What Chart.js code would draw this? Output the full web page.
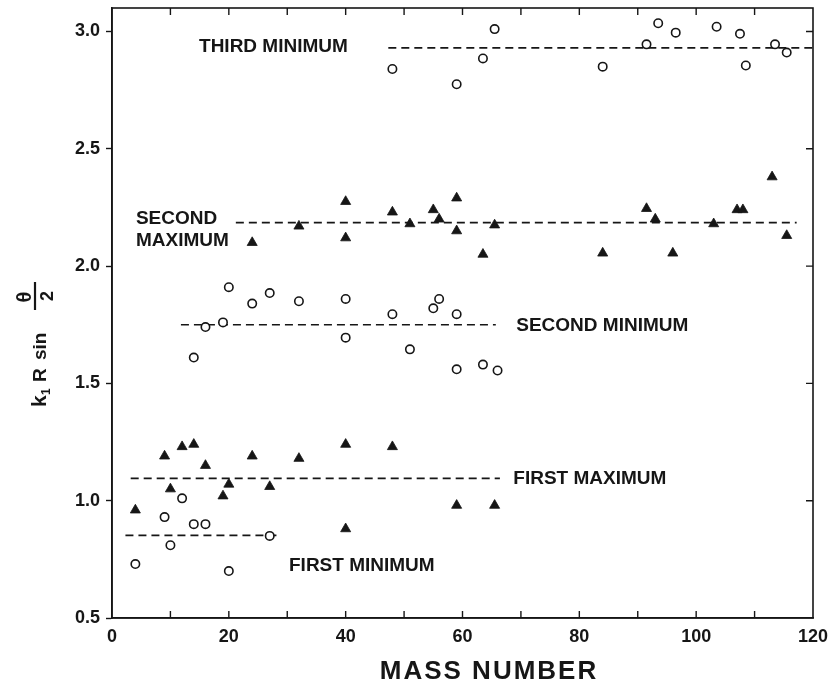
<!DOCTYPE html>
<html>
<head>
<meta charset="utf-8">
<script src="https://cdn.jsdelivr.net/npm/chart.js@4/dist/chart.umd.min.js"></script>
<style>
html, body { margin: 0; padding: 0; background: #ffffff; }
#wrap { width: 837px; height: 685px; }
</style>
</head>
<body>
<div id="wrap"><canvas id="c" width="837" height="685"></canvas></div>
<script>
// ---------- data ----------
const firstMinX  = [4, 9, 10, 12, 14, 16, 20, 27];
const firstMinY  = [0.73, 0.93, 0.81, 1.01, 0.90, 0.90, 0.70, 0.85];

const firstMaxX  = [4, 9, 10, 12, 14, 16, 19, 20, 24, 27, 32, 40, 40, 48, 59, 65.5];
const firstMaxY  = [0.96, 1.19, 1.05, 1.23, 1.24, 1.15, 1.02, 1.07, 1.19, 1.06, 1.18, 1.24, 0.88, 1.23, 0.98, 0.98];

const secondMinX = [14, 16, 19, 20, 24, 27, 32, 40, 40, 48, 51, 55, 56, 59, 59, 63.5, 66];
const secondMinY = [1.61, 1.74, 1.76, 1.91, 1.84, 1.885, 1.85, 1.86, 1.695, 1.795, 1.645, 1.82, 1.86, 1.795, 1.56, 1.58, 1.555];

const secondMaxX = [24, 32, 40, 40, 48, 51, 55, 56, 59, 59, 63.5, 65.5, 84, 91.5, 93, 96, 103, 107, 108, 113, 115.5];
const secondMaxY = [2.10, 2.17, 2.275, 2.12, 2.23, 2.18, 2.24, 2.20, 2.29, 2.15, 2.05, 2.175, 2.055, 2.245, 2.20, 2.055, 2.18, 2.24, 2.24, 2.38, 2.13];

const thirdMinX  = [48, 59, 63.5, 65.5, 84, 91.5, 93.5, 96.5, 103.5, 107.5, 108.5, 113.5, 115.5];
const thirdMinY  = [2.84, 2.775, 2.885, 3.01, 2.85, 2.945, 3.035, 2.995, 3.02, 2.99, 2.855, 2.945, 2.91];

// mean levels (dashed lines): level, start and end mass number
const meanNames  = ['FIRST MINIMUM', 'FIRST MAXIMUM', 'SECOND MINIMUM', 'SECOND MAXIMUM', 'THIRD MINIMUM'];
const meanLevel  = [0.852, 1.095, 1.75, 2.185, 2.93];
const meanStart  = [2.3, 3.2, 11.8, 21.2, 47.3];
const meanEnd    = [28.8, 66.4, 65.7, 117.2, 120];

const xTickValues = [0, 10, 20, 30, 40, 50, 60, 70, 80, 90, 100, 110, 120];
const xTickLabels = ['0', '', '20', '', '40', '', '60', '', '80', '', '100', '', '120'];
const yTickValues = [0.5, 1.0, 1.5, 2.0, 2.5, 3.0];
const yTickLabels = ['0.5', '1.0', '1.5', '2.0', '2.5', '3.0'];
const xAxisTitle = 'MASS NUMBER';

// ---------- build ----------
const INK = '#161616';
const FONT = '"Liberation Sans", Arial, sans-serif';
const pts = (xs, ys) => xs.map((x, i) => ({ x: x, y: ys[i] }));

const openCircle = { pointStyle: 'circle', pointRadius: 4.2, pointBorderWidth: 1.6,
  pointBackgroundColor: '#ffffff', pointBorderColor: INK, showLine: false, order: 0 };
const filledTri = { pointStyle: 'triangle', pointRadius: 5.8, pointBorderWidth: 0.8,
  pointBackgroundColor: INK, pointBorderColor: INK, showLine: false, order: 0 };

const datasets = [
  Object.assign({ label: 'First minimum', data: pts(firstMinX, firstMinY) }, openCircle),
  Object.assign({ label: 'First maximum', data: pts(firstMaxX, firstMaxY) }, filledTri),
  Object.assign({ label: 'Second minimum', data: pts(secondMinX, secondMinY) }, openCircle),
  Object.assign({ label: 'Second maximum', data: pts(secondMaxX, secondMaxY) }, filledTri),
  Object.assign({ label: 'Third minimum', data: pts(thirdMinX, thirdMinY) }, openCircle),
];
meanNames.forEach((n, i) => {
  datasets.push({
    type: 'line', label: n + ' (mean)',
    data: [{ x: meanStart[i], y: meanLevel[i] }, { x: meanEnd[i], y: meanLevel[i] }],
    borderColor: INK, borderWidth: 1.6, borderDash: [8, 5], pointRadius: 0,
    showLine: true, fill: false, order: 1
  });
});

// text labels attached to the dashed lines (in data units)
const labelAnchors = [
  { text: 'FIRST MINIMUM',  x: 30.3, y: 0.722 },
  { text: 'FIRST MAXIMUM',  x: 68.7, y: 1.092 },
  { text: 'SECOND MINIMUM', x: 69.2, y: 1.747 },
  { text: 'SECOND',         x: 4.1,  y: 2.203 },
  { text: 'MAXIMUM',        x: 4.1,  y: 2.110 },
  { text: 'THIRD MINIMUM',  x: 14.9, y: 2.935 },
];

const framePlugin = {
  id: 'frame',
  afterDraw(chart) {
    const { ctx, chartArea: a, scales: { x, y } } = chart;
    ctx.save();
    ctx.strokeStyle = INK;
    ctx.lineWidth = 1.6;
    ctx.strokeRect(a.left, a.top, a.right - a.left, a.bottom - a.top);
    // inward ticks: bottom & top every 10, right at 0.5 steps
    ctx.lineWidth = 1.4;
    ctx.beginPath();
    xTickValues.forEach(v => {
      const px = x.getPixelForValue(v);
      if (v > 0 && v < 120) {
        ctx.moveTo(px, a.bottom); ctx.lineTo(px, a.bottom - 7);
        ctx.moveTo(px, a.top);    ctx.lineTo(px, a.top + 7);
      }
    });
    yTickValues.forEach(v => {
      const py = y.getPixelForValue(v);
      if (v > 0.5) { ctx.moveTo(a.right, py); ctx.lineTo(a.right - 7, py); }
    });
    ctx.stroke();

    // curve labels
    ctx.fillStyle = INK;
    ctx.font = 'bold 19px ' + FONT;
    ctx.textAlign = 'left';
    ctx.textBaseline = 'middle';
    labelAnchors.forEach(l => {
      ctx.fillText(l.text, x.getPixelForValue(l.x), y.getPixelForValue(l.y));
    });

    // x-axis title (sits right of centre in the reference)
    ctx.font = 'bold 26px ' + FONT;
    ctx.textAlign = 'center';
    ctx.textBaseline = 'middle';
    if ('letterSpacing' in ctx) ctx.letterSpacing = '2px';
    ctx.fillText(xAxisTitle, 489, 672);
    if ('letterSpacing' in ctx) ctx.letterSpacing = '0px';

    // y-axis title: k1 R sin (theta / 2), rotated
    ctx.translate(46, 407);
    ctx.rotate(-Math.PI / 2);
    ctx.textBaseline = 'alphabetic';
    ctx.textAlign = 'left';
    ctx.font = 'bold 21px ' + FONT;
    ctx.fillText('k', 0, 0);
    ctx.font = 'bold 12px ' + FONT;
    ctx.fillText('1', 12, 4);
    ctx.font = 'bold 19px ' + FONT;
    ctx.fillText('R', 25, 0);
    ctx.fillText('sin', 47, 0);
    ctx.textAlign = 'center';
    ctx.font = 'bold 20px ' + FONT;
    ctx.fillText('θ', 110, -15);
    ctx.font = 'bold 18px ' + FONT;
    ctx.fillText('2', 111, 7);
    ctx.lineWidth = 2.2;
    ctx.beginPath();
    ctx.moveTo(97, -11); ctx.lineTo(125, -11);
    ctx.stroke();
    ctx.restore();
  }
};

new Chart(document.getElementById('c'), {
  type: 'scatter',
  data: { datasets: datasets },
  options: {
    responsive: false,
    animation: false,
    layout: { padding: { top: 8, right: 24, left: 0, bottom: 0 } },
    plugins: { legend: { display: false }, tooltip: { enabled: false }, title: { display: false } },
    scales: {
      x: {
        type: 'linear', min: 0, max: 120,
        afterBuildTicks: s => { s.ticks = xTickValues.map(v => ({ value: v })); },
        afterFit: s => { s.height = 67; s.paddingLeft = 0; s.paddingRight = 0; },
        ticks: {
          autoSkip: false, maxRotation: 0, padding: 8, color: INK,
          font: { family: FONT, size: 18, weight: 'bold' },
          callback: (v) => xTickLabels[xTickValues.indexOf(v)]
        },
        grid: { drawOnChartArea: false, drawTicks: false },
        border: { display: true, color: INK, width: 1.6 },
        title: { display: false, text: xAxisTitle }
      },
      y: {
        type: 'linear', min: 0.5, max: 3.1,
        afterBuildTicks: s => { s.ticks = yTickValues.map(v => ({ value: v })); },
        afterFit: s => { s.width = 112; s.paddingTop = 0; s.paddingBottom = 0; },
        ticks: {
          padding: 6, color: INK,
          font: { family: FONT, size: 18, weight: 'bold' },
          callback: (v) => yTickLabels[yTickValues.indexOf(v)]
        },
        grid: { drawOnChartArea: false, drawTicks: true, tickLength: 6, tickColor: INK, tickWidth: 1.4 },
        border: { display: true, color: INK, width: 1.6 },
        title: { display: false }
      }
    }
  },
  plugins: [framePlugin]
});
</script>
</body>
</html>
